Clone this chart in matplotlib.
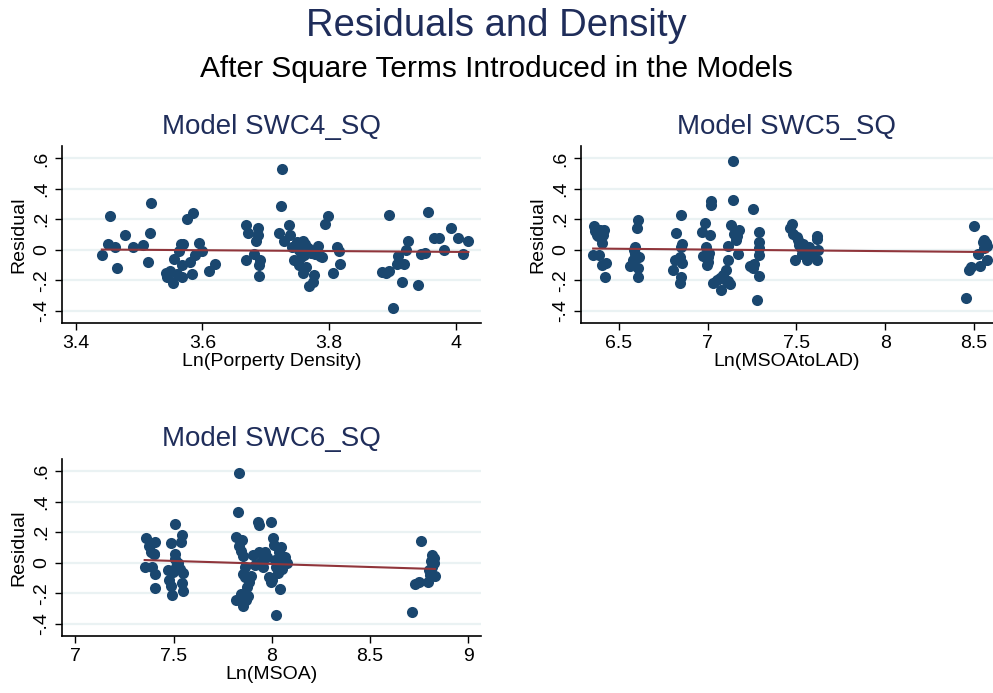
import numpy as np
import matplotlib
matplotlib.use("Agg")
import matplotlib.pyplot as plt

plt.rcParams["font.family"] = ["Liberation Sans", "DejaVu Sans"]

NAVY = "#1a476f"
MAROON = "#90353b"
TITLE = "#1f2d5a"
GRID = "#eaf2f3"

# Model SWC4_SQ: residuals against ln(property density)
swc4_x = [3.441, 3.450, 3.454, 3.462, 3.465, 3.478, 3.491, 3.506, 3.514, 3.517,
          3.519, 3.543, 3.544, 3.549, 3.553, 3.555, 3.560, 3.563, 3.566, 3.567,
          3.569, 3.568, 3.575, 3.580, 3.585, 3.584, 3.588, 3.595, 3.599, 3.611,
          3.619,
          3.668, 3.672, 3.668, 3.681, 3.684, 3.687, 3.688, 3.689, 3.690, 3.691,
          3.726, 3.724, 3.721, 3.729, 3.737, 3.739, 3.742, 3.745, 3.749, 3.752,
          3.753, 3.757, 3.759, 3.758, 3.760, 3.764, 3.766, 3.769, 3.769, 3.774,
          3.776, 3.777, 3.782, 3.786, 3.789, 3.793, 3.799, 3.806, 3.813, 3.816,
          3.818, 3.748, 3.755, 3.762, 3.771,
          3.884, 3.890, 3.894, 3.895, 3.901, 3.907, 3.909, 3.915, 3.919, 3.922,
          3.924, 3.941, 3.945, 3.952, 3.957, 3.965, 3.974, 3.981, 3.992, 4.003,
          4.012, 4.020]
swc4_y = [-0.035, 0.04, 0.22, 0.02, -0.12, 0.10, 0.02, 0.03, -0.08, 0.11,
          0.31, -0.15, -0.18, -0.14, -0.22, -0.06, -0.16, -0.01, 0.04, -0.10,
          0.04, -0.18, 0.20, -0.08, 0.24, -0.16, -0.035, 0.045, -0.01, -0.14,
          -0.09,
          0.16, 0.11, -0.065, -0.03, 0.06, 0.14, 0.10, -0.10, -0.17, -0.07,
          0.53, 0.29, 0.11, 0.06, 0.16, 0.10, 0.02, -0.065, 0.05, 0.0,
          -0.10, 0.02, 0.06, -0.155, -0.035, -0.11, 0.01, -0.01, -0.235, -0.21,
          -0.165, -0.025, 0.025, -0.04, -0.045, 0.17, 0.22, -0.15, 0.02, -0.01,
          -0.09, 0.03, -0.05, 0.04, -0.02,
          -0.145, -0.155, 0.23, -0.14, -0.38, -0.09, -0.04, -0.21, -0.095, 0.0,
          0.06, -0.23, -0.03, -0.02, 0.25, 0.075, 0.075, 0.0, 0.145, 0.075,
          -0.025, 0.055]

# Model SWC5_SQ: residuals against ln(MSOA to LAD)
swc5_x = [6.361, 6.368, 6.374, 6.355, 6.389, 6.393, 6.402, 6.417, 6.402, 6.427,
          6.421, 6.383, 6.412,
          6.562, 6.577, 6.585, 6.590, 6.596, 6.605, 6.600, 6.609, 6.609, 6.615,
          6.590,
          6.806, 6.821, 6.816, 6.844, 6.848, 6.850, 6.850, 6.853, 6.853, 6.844,
          6.970, 6.985, 6.976, 6.991, 6.994, 7.004, 7.004, 7.017, 7.017, 7.013,
          7.009, 7.032, 7.051, 7.070, 7.075, 7.088, 7.103, 7.111, 7.116, 7.114,
          7.126, 7.116, 7.132, 7.141, 7.145, 7.150, 7.160, 7.167, 7.179, 7.169,
          7.254, 7.239, 7.254, 7.263, 7.276, 7.288, 7.291, 7.291, 7.291, 7.291,
          7.464, 7.476, 7.483, 7.492, 7.511, 7.517, 7.524, 7.539, 7.549, 7.558,
          7.568, 7.577, 7.587, 7.613, 7.617, 7.613, 7.622, 7.530, 7.502,
          8.457, 8.470, 8.485, 8.498, 8.520, 8.535, 8.554, 8.557, 8.573, 8.576,
          8.565, 8.570, 8.548]
swc5_y = [0.155, 0.125, 0.095, -0.035, -0.035, 0.13, 0.045, 0.13, -0.10, -0.085,
          -0.18, 0.09, 0.095,
          -0.105, -0.065, -0.003, -0.03, -0.057, 0.195, 0.14, -0.12, -0.18, -0.05,
          0.02,
          -0.135, 0.11, -0.07, -0.22, -0.18, 0.02, 0.23, 0.04, -0.085, -0.045,
          0.12, 0.175, -0.04, 0.02, -0.10, -0.045, -0.08, 0.32, 0.295, 0.095,
          -0.02, -0.215, -0.20, -0.185, -0.265, -0.165, -0.135, -0.21, -0.07, 0.025,
          -0.225, -0.205, 0.16, 0.33, 0.58, 0.105, 0.065, 0.09, 0.13, -0.03,
          0.27, -0.105, -0.12, -0.09, -0.33, 0.12, 0.05, 0.015, -0.035, -0.17,
          0.14, 0.17, 0.105, -0.065, 0.065, 0.03, 0.01, 0.035, 0.0, -0.07,
          0.02, 0.0, -0.02, 0.09, 0.07, -0.07, 0.0, -0.03, 0.085,
          -0.315, -0.135, -0.115, 0.155, -0.025, -0.105, 0.065, 0.01, -0.065, 0.025,
          0.045, 0.035, 0.05]

# Model SWC6_SQ: residuals against ln(MSOA)
swc6_x = [7.353, 7.362, 7.374, 7.387, 7.399, 7.407, 7.399, 7.392, 7.404, 7.407,
          7.472, 7.475, 7.486, 7.489, 7.494, 7.497, 7.506, 7.506, 7.506, 7.511,
          7.523, 7.531, 7.540, 7.543, 7.548, 7.545, 7.548,
          7.834, 7.829, 7.820, 7.834, 7.841, 7.849, 7.854, 7.862, 7.851, 7.862,
          7.820, 7.841, 7.854, 7.871, 7.880, 7.874, 7.886, 7.895, 7.905, 7.913,
          7.930, 7.933, 7.935, 7.947, 7.955, 7.968, 7.978, 7.998, 7.986, 7.998,
          8.007, 8.010, 8.015, 8.024, 8.024, 8.037, 8.044, 8.048, 8.054, 8.061,
          8.066, 8.075, 8.048, 8.031, 8.003,
          8.716, 8.728, 8.749, 8.762, 8.794, 8.806, 8.799, 8.815, 8.827, 8.830,
          8.817, 8.822, 8.810, 8.825]
swc6_y = [-0.03, 0.16, 0.11, 0.07, 0.055, 0.135, 0.06, -0.03, -0.075, -0.165,
          -0.05, -0.11, 0.13, -0.15, -0.21, -0.06, 0.255, 0.055, 0.025, -0.03,
          -0.005, -0.04, 0.135, 0.185, -0.07, -0.13, -0.185,
          0.585, 0.33, 0.17, 0.11, 0.075, 0.15, 0.045, -0.03, -0.075, -0.095,
          -0.245, -0.205, -0.285, -0.245, -0.215, -0.16, -0.125, -0.085, 0.05, -0.015,
          0.27, 0.245, 0.07, 0.005, -0.03, 0.07, 0.04, 0.27, -0.095, -0.125,
          0.16, 0.115, 0.015, -0.03, -0.34, 0.07, -0.17, 0.105, -0.04, 0.015,
          0.035, -0.005, 0.005, -0.07, -0.115,
          -0.32, -0.14, -0.125, 0.14, -0.125, -0.08, -0.045, 0.05, 0.0, -0.09,
          -0.03, 0.02, 0.01, 0.03]

panels = [
    ("Model SWC4_SQ", "Ln(Porperty Density)", swc4_x, swc4_y,
     [3.4, 3.6, 3.8, 4.0], ["3.4", "3.6", "3.8", "4"], (3.378, 4.04)),
    ("Model SWC5_SQ", "Ln(MSOAtoLAD)", swc5_x, swc5_y,
     [6.5, 7.0, 7.5, 8.0, 8.5], ["6.5", "7", "7.5", "8", "8.5"], (6.286, 8.607)),
    ("Model SWC6_SQ", "Ln(MSOA)", swc6_x, swc6_y,
     [7.0, 7.5, 8.0, 8.5, 9.0], ["7", "7.5", "8", "8.5", "9"], (6.932, 9.065)),
]
y_ticks = [-0.4, -0.2, 0.0, 0.2, 0.4, 0.6]
y_labels = ["-.4", "-.2", "0", ".2", ".4", ".6"]

fig = plt.figure(figsize=(9.93, 6.93), dpi=100)
boxes = [
    [0.0624, 0.534, 0.422, 0.255],
    [0.585, 0.534, 0.415, 0.255],
    [0.0624, 0.0823, 0.422, 0.2554],
]

for (title, xlabel, xs, ys, xt, xtl, xlim), box in zip(panels, boxes):
    ax = fig.add_axes(box)
    xs = np.asarray(xs)
    ys = np.asarray(ys)
    ax.set_axisbelow(True)
    ax.grid(axis="y", color=GRID, linewidth=1.6)
    ax.scatter(xs, ys, s=64, color=NAVY, linewidths=0, zorder=2)
    # linear fit through the residuals
    slope, icpt = np.polyfit(xs, ys, 1)
    fx = np.array([xs.min(), xs.max()])
    ax.plot(fx, slope * fx + icpt, color=MAROON, linewidth=1.5, zorder=3)

    ax.set_xlim(*xlim)
    ax.set_ylim(-0.48, 0.68)
    ax.set_xticks(xt)
    ax.set_xticklabels(xtl)
    ax.set_yticks(y_ticks)
    ax.set_yticklabels(y_labels, rotation=90, va="center")
    ax.tick_params(labelsize=14, length=5, width=1, color="black")
    for side in ("top", "right"):
        ax.spines[side].set_visible(False)
    for side in ("left", "bottom"):
        ax.spines[side].set_linewidth(1.2)
    ax.set_xlabel(xlabel, fontsize=14, labelpad=1)
    ax.set_ylabel("Residual", fontsize=14, labelpad=4)
    ax.set_title(title, fontsize=20, color=TITLE, pad=9)

fig.text(0.5, 0.963, "Residuals and Density", ha="center", va="center",
         fontsize=27.5, color=TITLE)
fig.text(0.5, 0.901, "After Square Terms Introduced in the Models",
         ha="center", va="center", fontsize=21.5, color="black")

fig.savefig("out.png", dpi=100, facecolor="white")
